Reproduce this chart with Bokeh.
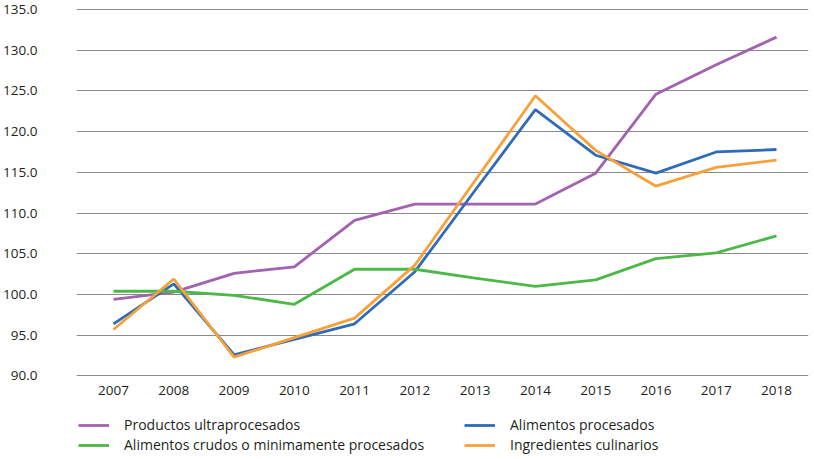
from bokeh.plotting import figure
from bokeh.layouts import column
from bokeh.models import Range1d, FixedTicker, Legend, LegendItem, NumeralTickFormatter
from bokeh.embed import file_html
from bokeh.resources import INLINE

years = [2007, 2008, 2009, 2010, 2011, 2012, 2013, 2014, 2015, 2016, 2017, 2018]
ultraprocesados = [99.4, 100.3, 102.6, 103.4, 109.1, 111.1, 111.1, 111.1, 114.9, 124.6, 128.2, 131.6]
procesados = [96.4, 101.3, 92.6, 94.5, 96.4, 102.8, 112.8, 122.7, 117.1, 114.9, 117.5, 117.8]
crudos = [100.4, 100.4, 99.9, 98.8, 103.1, 103.1, 102.0, 101.0, 101.8, 104.4, 105.1, 107.2]
culinarios = [95.7, 101.9, 92.3, 94.7, 97.1, 103.6, 114.0, 124.4, 117.7, 113.3, 115.6, 116.5]
y_ticks = [90, 95, 100, 105, 110, 115, 120, 125, 130, 135]

names = ["Productos ultraprocesados", "Alimentos procesados",
         "Alimentos crudos o minimamente procesados", "Ingredientes culinarios"]
colors = ["#a262b0", "#2f6cb5", "#4cb848", "#f7a13a"]
series = [ultraprocesados, procesados, crudos, culinarios]

p = figure(frame_width=732, frame_height=373, output_backend="svg", toolbar_location=None,
           x_range=Range1d(2006.386, 2018.531), y_range=Range1d(89.93, 135.73),
           min_border_left=71, min_border_right=1, min_border_top=3, min_border_bottom=0)
p.outline_line_color = None
p.background_fill_color = "white"
p.border_fill_color = "white"

p.xgrid.grid_line_color = None
p.ygrid.grid_line_color = "#8a8a8a"
p.ygrid.grid_line_width = 1.2
p.ygrid.ticker = FixedTicker(ticks=y_ticks)

p.yaxis.ticker = FixedTicker(ticks=y_ticks)
p.yaxis.formatter = NumeralTickFormatter(format="0.0")
p.xaxis.ticker = FixedTicker(ticks=years)
for ax in (p.xaxis, p.yaxis):
    ax.axis_line_color = None
    ax.major_tick_line_color = None
    ax.minor_tick_line_color = None
    ax.major_label_text_font = "Open Sans"
    ax.major_label_text_font_size = "13.5px"
    ax.major_label_text_color = "#231f20"
p.yaxis.major_label_standoff = 33
p.xaxis.major_label_standoff = 3

for vals, c in zip(series, colors):
    p.line(years, vals, line_color=c, line_width=2.8)

# legend panel below the chart
pl = figure(width=804, height=58, output_backend="svg", toolbar_location=None,
            x_axis_type=None, y_axis_type=None, min_border=0,
            x_range=Range1d(2006.386, 2018.531), y_range=Range1d(89.93, 135.73))
pl.outline_line_color = None
pl.grid.grid_line_color = None
leg_r = [pl.line(years, vals, line_color=c, line_width=2.8, visible=False)
         for vals, c in zip(series, colors)]
items = [LegendItem(label=n, renderers=[r]) for n, r in zip(names, leg_r)]

def make_legend(its, x):
    lg = Legend(items=its, orientation="vertical",
                label_text_font="Open Sans", label_text_font_size="14px",
                label_text_color="#231f20", glyph_width=31, glyph_height=14,
                label_height=14, label_standoff=15, spacing=1, padding=0, margin=0,
                border_line_color=None, background_fill_alpha=0)
    lg.location = (x, 1)
    return lg

pl.add_layout(make_legend([items[0], items[2]], 2))
pl.add_layout(make_legend([items[1], items[3]], 388))

open("out.html", "w").write(file_html(column(p, pl, spacing=0), INLINE))
